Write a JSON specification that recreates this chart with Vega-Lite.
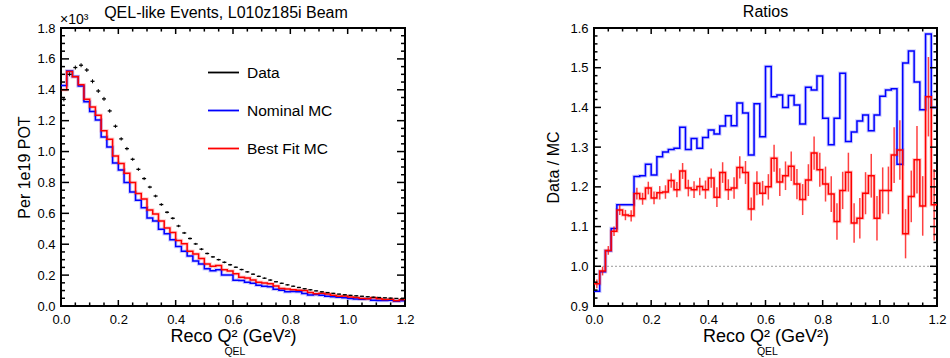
{
  "$schema": "https://vega.github.io/schema/vega-lite/v6.json",
  "background": "white",
  "padding": {"left": 15, "top": 3, "right": 5, "bottom": 0},
  "bounds": "flush",
  "spacing": 189,
  "config": {
    "view": {"stroke": "black", "strokeWidth": 2},
    "axis": {"grid": false, "domain": false, "ticks": false, "labelFont": "Liberation Sans Narrow, Liberation Sans", "labelFontSize": 13, "labelColor": "black", "titleFont": "Liberation Sans", "titleFontSize": 16, "titleFontWeight": "normal", "titleColor": "black", "labelFlush": false, "labelOverlap": false},
    "title": {"font": "Liberation Sans", "fontSize": 16, "fontWeight": "normal", "color": "black"},
    "legend": {"orient": "none", "legendX": 146, "legendY": 28, "symbolType": "stroke", "symbolSize": 961, "symbolStrokeWidth": 1.8, "labelFont": "Liberation Sans", "labelFontSize": 15.5, "labelColor": "black", "rowPadding": 13, "labelOffset": 7, "padding": 0, "title": null}
  },
  "datasets": {
    "h": [
      {"lo":0.00,"hi":0.02,"c":0.01,"d":1.338,"de":0.013,"n":1.428,"f":1.400,"rn":0.937,"rf":0.956,"re":0.011},
      {"lo":0.02,"hi":0.04,"c":0.03,"d":1.500,"de":0.013,"n":1.521,"f":1.518,"rn":0.986,"rf":0.988,"re":0.011},
      {"lo":0.04,"hi":0.06,"c":0.05,"d":1.544,"de":0.013,"n":1.486,"f":1.485,"rn":1.039,"rf":1.040,"re":0.011},
      {"lo":0.06,"hi":0.08,"c":0.07,"d":1.559,"de":0.013,"n":1.424,"f":1.433,"rn":1.095,"rf":1.088,"re":0.012},
      {"lo":0.08,"hi":0.10,"c":0.09,"d":1.528,"de":0.013,"n":1.323,"f":1.338,"rn":1.155,"rf":1.142,"re":0.013},
      {"lo":0.10,"hi":0.12,"c":0.11,"d":1.455,"de":0.013,"n":1.260,"f":1.289,"rn":1.155,"rf":1.129,"re":0.013},
      {"lo":0.12,"hi":0.14,"c":0.13,"d":1.392,"de":0.013,"n":1.205,"f":1.235,"rn":1.155,"rf":1.127,"re":0.014},
      {"lo":0.14,"hi":0.16,"c":0.15,"d":1.341,"de":0.013,"n":1.094,"f":1.134,"rn":1.226,"rf":1.183,"re":0.015},
      {"lo":0.16,"hi":0.18,"c":0.17,"d":1.263,"de":0.012,"n":1.029,"f":1.079,"rn":1.228,"rf":1.170,"re":0.015},
      {"lo":0.18,"hi":0.20,"c":0.19,"d":1.164,"de":0.011,"n":0.926,"f":0.972,"rn":1.257,"rf":1.197,"re":0.016},
      {"lo":0.20,"hi":0.22,"c":0.21,"d":1.082,"de":0.011,"n":0.880,"f":0.923,"rn":1.230,"rf":1.172,"re":0.016},
      {"lo":0.22,"hi":0.24,"c":0.23,"d":1.019,"de":0.011,"n":0.799,"f":0.860,"rn":1.276,"rf":1.185,"re":0.017},
      {"lo":0.24,"hi":0.26,"c":0.25,"d":0.950,"de":0.010,"n":0.738,"f":0.800,"rn":1.288,"rf":1.187,"re":0.017},
      {"lo":0.26,"hi":0.28,"c":0.27,"d":0.885,"de":0.010,"n":0.684,"f":0.728,"rn":1.294,"rf":1.216,"re":0.018},
      {"lo":0.28,"hi":0.30,"c":0.29,"d":0.825,"de":0.010,"n":0.636,"f":0.692,"rn":1.297,"rf":1.193,"re":0.019},
      {"lo":0.30,"hi":0.32,"c":0.31,"d":0.770,"de":0.009,"n":0.570,"f":0.621,"rn":1.350,"rf":1.240,"re":0.020},
      {"lo":0.32,"hi":0.34,"c":0.33,"d":0.712,"de":0.009,"n":0.550,"f":0.595,"rn":1.294,"rf":1.197,"re":0.021},
      {"lo":0.34,"hi":0.36,"c":0.35,"d":0.657,"de":0.009,"n":0.497,"f":0.551,"rn":1.322,"rf":1.193,"re":0.021},
      {"lo":0.36,"hi":0.38,"c":0.37,"d":0.607,"de":0.008,"n":0.468,"f":0.505,"rn":1.297,"rf":1.201,"re":0.022},
      {"lo":0.38,"hi":0.40,"c":0.39,"d":0.568,"de":0.008,"n":0.429,"f":0.476,"rn":1.324,"rf":1.193,"re":0.023},
      {"lo":0.40,"hi":0.42,"c":0.41,"d":0.518,"de":0.008,"n":0.386,"f":0.424,"rn":1.343,"rf":1.222,"re":0.024},
      {"lo":0.42,"hi":0.44,"c":0.43,"d":0.473,"de":0.007,"n":0.355,"f":0.403,"rn":1.333,"rf":1.174,"re":0.025},
      {"lo":0.44,"hi":0.46,"c":0.45,"d":0.437,"de":0.007,"n":0.323,"f":0.354,"rn":1.353,"rf":1.236,"re":0.026},
      {"lo":0.46,"hi":0.48,"c":0.47,"d":0.402,"de":0.007,"n":0.292,"f":0.337,"rn":1.379,"rf":1.193,"re":0.026},
      {"lo":0.48,"hi":0.50,"c":0.49,"d":0.368,"de":0.007,"n":0.272,"f":0.307,"rn":1.354,"rf":1.197,"re":0.027},
      {"lo":0.50,"hi":0.52,"c":0.51,"d":0.340,"de":0.006,"n":0.241,"f":0.272,"rn":1.411,"rf":1.249,"re":0.028},
      {"lo":0.52,"hi":0.54,"c":0.53,"d":0.318,"de":0.006,"n":0.229,"f":0.257,"rn":1.386,"rf":1.236,"re":0.029},
      {"lo":0.54,"hi":0.56,"c":0.55,"d":0.300,"de":0.006,"n":0.234,"f":0.262,"rn":1.280,"rf":1.144,"re":0.029},
      {"lo":0.56,"hi":0.58,"c":0.57,"d":0.283,"de":0.006,"n":0.201,"f":0.234,"rn":1.409,"rf":1.209,"re":0.030},
      {"lo":0.58,"hi":0.60,"c":0.59,"d":0.267,"de":0.006,"n":0.201,"f":0.226,"rn":1.326,"rf":1.184,"re":0.031},
      {"lo":0.60,"hi":0.62,"c":0.61,"d":0.251,"de":0.005,"n":0.167,"f":0.209,"rn":1.503,"rf":1.200,"re":0.032},
      {"lo":0.62,"hi":0.64,"c":0.63,"d":0.236,"de":0.005,"n":0.165,"f":0.186,"rn":1.427,"rf":1.272,"re":0.034},
      {"lo":0.64,"hi":0.66,"c":0.65,"d":0.221,"de":0.005,"n":0.154,"f":0.182,"rn":1.431,"rf":1.212,"re":0.035},
      {"lo":0.66,"hi":0.68,"c":0.67,"d":0.206,"de":0.005,"n":0.147,"f":0.168,"rn":1.400,"rf":1.228,"re":0.036},
      {"lo":0.68,"hi":0.70,"c":0.69,"d":0.192,"de":0.005,"n":0.134,"f":0.153,"rn":1.430,"rf":1.252,"re":0.037},
      {"lo":0.70,"hi":0.72,"c":0.71,"d":0.180,"de":0.005,"n":0.128,"f":0.149,"rn":1.406,"rf":1.207,"re":0.038},
      {"lo":0.72,"hi":0.74,"c":0.73,"d":0.168,"de":0.005,"n":0.124,"f":0.144,"rn":1.358,"rf":1.168,"re":0.039},
      {"lo":0.74,"hi":0.76,"c":0.75,"d":0.157,"de":0.004,"n":0.108,"f":0.129,"rn":1.451,"rf":1.217,"re":0.040},
      {"lo":0.76,"hi":0.78,"c":0.77,"d":0.147,"de":0.004,"n":0.102,"f":0.114,"rn":1.444,"rf":1.285,"re":0.042},
      {"lo":0.78,"hi":0.80,"c":0.79,"d":0.137,"de":0.004,"n":0.0926,"f":0.110,"rn":1.479,"rf":1.243,"re":0.043},
      {"lo":0.80,"hi":0.82,"c":0.81,"d":0.128,"de":0.004,"n":0.0932,"f":0.106,"rn":1.373,"rf":1.207,"re":0.044},
      {"lo":0.82,"hi":0.84,"c":0.83,"d":0.120,"de":0.004,"n":0.0919,"f":0.1015,"rn":1.306,"rf":1.182,"re":0.045},
      {"lo":0.84,"hi":0.86,"c":0.85,"d":0.112,"de":0.004,"n":0.0816,"f":0.1006,"rn":1.373,"rf":1.113,"re":0.046},
      {"lo":0.86,"hi":0.88,"c":0.87,"d":0.105,"de":0.004,"n":0.0707,"f":0.0882,"rn":1.486,"rf":1.191,"re":0.047},
      {"lo":0.88,"hi":0.90,"c":0.89,"d":0.098,"de":0.004,"n":0.0746,"f":0.0792,"rn":1.314,"rf":1.237,"re":0.049},
      {"lo":0.90,"hi":0.92,"c":0.91,"d":0.092,"de":0.004,"n":0.0688,"f":0.0830,"rn":1.338,"rf":1.109,"re":0.050},
      {"lo":0.92,"hi":0.94,"c":0.93,"d":0.087,"de":0.003,"n":0.0637,"f":0.0776,"rn":1.366,"rf":1.121,"re":0.051},
      {"lo":0.94,"hi":0.96,"c":0.95,"d":0.082,"de":0.003,"n":0.0594,"f":0.0693,"rn":1.381,"rf":1.184,"re":0.053},
      {"lo":0.96,"hi":0.98,"c":0.97,"d":0.077,"de":0.003,"n":0.0574,"f":0.0627,"rn":1.341,"rf":1.228,"re":0.055},
      {"lo":0.98,"hi":1.00,"c":0.99,"d":0.073,"de":0.003,"n":0.0529,"f":0.0651,"rn":1.381,"rf":1.121,"re":0.056},
      {"lo":1.00,"hi":1.02,"c":1.01,"d":0.069,"de":0.003,"n":0.0483,"f":0.0579,"rn":1.428,"rf":1.191,"re":0.058},
      {"lo":1.02,"hi":1.04,"c":1.03,"d":0.066,"de":0.003,"n":0.0457,"f":0.0554,"rn":1.444,"rf":1.191,"re":0.060},
      {"lo":1.04,"hi":1.06,"c":1.05,"d":0.063,"de":0.003,"n":0.0435,"f":0.0492,"rn":1.447,"rf":1.280,"re":0.070},
      {"lo":1.06,"hi":1.08,"c":1.07,"d":0.060,"de":0.003,"n":0.0477,"f":0.0464,"rn":1.257,"rf":1.293,"re":0.075},
      {"lo":1.08,"hi":1.10,"c":1.09,"d":0.057,"de":0.003,"n":0.0377,"f":0.0527,"rn":1.512,"rf":1.082,"re":0.062},
      {"lo":1.10,"hi":1.12,"c":1.11,"d":0.055,"de":0.003,"n":0.0357,"f":0.0468,"rn":1.542,"rf":1.176,"re":0.065},
      {"lo":1.12,"hi":1.14,"c":1.13,"d":0.053,"de":0.003,"n":0.0362,"f":0.0418,"rn":1.464,"rf":1.268,"re":0.085},
      {"lo":1.14,"hi":1.16,"c":1.15,"d":0.051,"de":0.003,"n":0.0366,"f":0.0443,"rn":1.394,"rf":1.152,"re":0.075},
      {"lo":1.16,"hi":1.18,"c":1.17,"d":0.049,"de":0.003,"n":0.0309,"f":0.0343,"rn":1.585,"rf":1.427,"re":0.100},
      {"lo":1.18,"hi":1.20,"c":1.19,"d":0.047,"de":0.003,"n":0.0336,"f":0.0407,"rn":1.400,"rf":1.155,"re":0.090},
      {"lo":1.20,"n":0.0336,"f":0.0407,"rn":1.400,"rf":1.155}
    ]
  },
  "hconcat": [
    {
      "width": 344,
      "height": 278,
      "title": {"text": "QEL-like Events, L010z185i Beam", "offset": -8, "dx": -7},
      "data": {"name": "h"},
      "resolve": {"axis": {"x": "independent", "y": "independent"}},
      "layer": [
        {
          "mark": {"type": "line", "interpolate": "step-after", "strokeWidth": 3.5, "opacity": 0.2, "color": "#0000ff"},
          "encoding": {
            "x": {"field": "lo", "type": "quantitative", "scale": {"domain": [0, 1.2], "nice": false, "zero": false},
                  "axis": {"orient": "bottom", "values": [0, 0.2, 0.4, 0.6, 0.8, 1.0, 1.2], "format": ".1f", "labelPadding": 7, "title": "Reco Q²    (GeV²)", "titleFontSize": 18, "titlePadding": 1}},
            "y": {"field": "n", "type": "quantitative", "scale": {"domain": [0, 1.8], "nice": false, "zero": false},
                  "axis": {"orient": "left", "values": [0, 0.2, 0.4, 0.6, 0.8, 1.0, 1.2, 1.4, 1.6, 1.8], "format": ".1f", "labelPadding": 6, "title": "Per 1e19 POT", "titlePadding": 4}}
          }
        },
        {
          "mark": {"type": "line", "interpolate": "step-after", "strokeWidth": 3.5, "opacity": 0.2, "color": "#ff0000"},
          "encoding": {
            "x": {"field": "lo", "type": "quantitative", "axis": null},
            "y": {"field": "f", "type": "quantitative", "axis": null}
          }
        },
        {
          "mark": {"type": "line", "interpolate": "step-after", "strokeWidth": 1.5},
          "encoding": {
            "x": {"field": "lo", "type": "quantitative", "axis": null},
            "y": {"field": "n", "type": "quantitative", "axis": null},
            "color": {"datum": "Nominal MC", "type": "nominal", "scale": {"domain": ["Data", "Nominal MC", "Best Fit MC"], "range": ["#000000", "#0000ff", "#ff0000"]}}
          }
        },
        {
          "mark": {"type": "line", "interpolate": "step-after", "strokeWidth": 1.5},
          "encoding": {
            "x": {"field": "lo", "type": "quantitative", "axis": null},
            "y": {"field": "f", "type": "quantitative", "axis": null},
            "color": {"datum": "Best Fit MC", "type": "nominal"}
          }
        },
        {
          "mark": {"type": "rule", "strokeWidth": 1.3, "strokeDash": [4, 1.7], "strokeDashOffset": -0.85},
          "encoding": {
            "x": {"field": "lo", "type": "quantitative", "axis": null},
            "x2": {"field": "hi"},
            "y": {"field": "d", "type": "quantitative", "axis": null},
            "color": {"datum": "Data", "type": "nominal", "legend": {"symbolDash": [], "encode": {"symbols": {"update": {"strokeDash": {"value": []}}}}}}
          }
        },
        {
          "transform": [{"filter": "isValid(datum.de)"}],
          "mark": {"type": "errorbar", "color": "black", "thickness": 1, "ticks": false},
          "encoding": {
            "x": {"field": "c", "type": "quantitative", "axis": null},
            "y": {"field": "d", "type": "quantitative", "axis": null},
            "yError": {"field": "de"}
          }
        },
        {
          "data": {"values": [{"v":0},{"v":0.2},{"v":0.4},{"v":0.6},{"v":0.8},{"v":1.0},{"v":1.2}]},
          "mark": {"type": "rule", "color": "#000000", "strokeWidth": 1.5},
          "encoding": {
            "x": {"field": "v", "type": "quantitative", "axis": null},
            "y": {"datum": 0, "type": "quantitative", "axis": null},
            "y2": {"datum": 0.039}
          }
        },
        {
          "data": {"values": [{"v":0.05},{"v":0.1},{"v":0.15},{"v":0.25},{"v":0.3},{"v":0.35},{"v":0.45},{"v":0.5},{"v":0.55},{"v":0.65},{"v":0.7},{"v":0.75},{"v":0.85},{"v":0.9},{"v":0.95},{"v":1.05},{"v":1.1},{"v":1.15}]},
          "mark": {"type": "rule", "color": "#000000", "strokeWidth": 1.5},
          "encoding": {
            "x": {"field": "v", "type": "quantitative", "axis": null},
            "y": {"datum": 0, "type": "quantitative", "axis": null},
            "y2": {"datum": 0.023}
          }
        },
        {
          "data": {"values": [{"v":0},{"v":0.2},{"v":0.4},{"v":0.6},{"v":0.8},{"v":1.0},{"v":1.2}]},
          "mark": {"type": "rule", "color": "#000000", "strokeWidth": 1.5},
          "encoding": {
            "x": {"field": "v", "type": "quantitative", "axis": null},
            "y": {"datum": 1.8, "type": "quantitative", "axis": null},
            "y2": {"datum": 1.761}
          }
        },
        {
          "data": {"values": [{"v":0.05},{"v":0.1},{"v":0.15},{"v":0.25},{"v":0.3},{"v":0.35},{"v":0.45},{"v":0.5},{"v":0.55},{"v":0.65},{"v":0.7},{"v":0.75},{"v":0.85},{"v":0.9},{"v":0.95},{"v":1.05},{"v":1.1},{"v":1.15}]},
          "mark": {"type": "rule", "color": "#000000", "strokeWidth": 1.5},
          "encoding": {
            "x": {"field": "v", "type": "quantitative", "axis": null},
            "y": {"datum": 1.8, "type": "quantitative", "axis": null},
            "y2": {"datum": 1.777}
          }
        },
        {
          "data": {"values": [{"v":0},{"v":0.2},{"v":0.4},{"v":0.6},{"v":0.8},{"v":1.0},{"v":1.2},{"v":1.4},{"v":1.6},{"v":1.8}]},
          "mark": {"type": "rule", "color": "#000000", "strokeWidth": 1.5},
          "encoding": {
            "y": {"field": "v", "type": "quantitative", "axis": null},
            "x": {"datum": 0, "type": "quantitative", "axis": null},
            "x2": {"datum": 0.028}
          }
        },
        {
          "data": {"values": [{"v":0.05},{"v":0.1},{"v":0.15},{"v":0.25},{"v":0.3},{"v":0.35},{"v":0.45},{"v":0.5},{"v":0.55},{"v":0.65},{"v":0.7},{"v":0.75},{"v":0.85},{"v":0.9},{"v":0.95},{"v":1.05},{"v":1.1},{"v":1.15},{"v":1.25},{"v":1.3},{"v":1.35},{"v":1.45},{"v":1.5},{"v":1.55},{"v":1.65},{"v":1.7},{"v":1.75}]},
          "mark": {"type": "rule", "color": "#000000", "strokeWidth": 1.5},
          "encoding": {
            "y": {"field": "v", "type": "quantitative", "axis": null},
            "x": {"datum": 0, "type": "quantitative", "axis": null},
            "x2": {"datum": 0.014}
          }
        },
        {
          "data": {"values": [{"v":0},{"v":0.2},{"v":0.4},{"v":0.6},{"v":0.8},{"v":1.0},{"v":1.2},{"v":1.4},{"v":1.6},{"v":1.8}]},
          "mark": {"type": "rule", "color": "#000000", "strokeWidth": 1.5},
          "encoding": {
            "y": {"field": "v", "type": "quantitative", "axis": null},
            "x": {"datum": 1.2, "type": "quantitative", "axis": null},
            "x2": {"datum": 1.172}
          }
        },
        {
          "data": {"values": [{"v":0.05},{"v":0.1},{"v":0.15},{"v":0.25},{"v":0.3},{"v":0.35},{"v":0.45},{"v":0.5},{"v":0.55},{"v":0.65},{"v":0.7},{"v":0.75},{"v":0.85},{"v":0.9},{"v":0.95},{"v":1.05},{"v":1.1},{"v":1.15},{"v":1.25},{"v":1.3},{"v":1.35},{"v":1.45},{"v":1.5},{"v":1.55},{"v":1.65},{"v":1.7},{"v":1.75}]},
          "mark": {"type": "rule", "color": "#000000", "strokeWidth": 1.5},
          "encoding": {
            "y": {"field": "v", "type": "quantitative", "axis": null},
            "x": {"datum": 1.2, "type": "quantitative", "axis": null},
            "x2": {"datum": 1.186}
          }
        },
        {
          "data": {"values": [{}]},
          "mark": {"type": "text", "text": "×10³", "align": "left", "baseline": "alphabetic", "dx": -1, "dy": -4, "font": "Liberation Sans", "fontSize": 14, "color": "black"},
          "encoding": {
            "x": {"datum": 0, "type": "quantitative", "axis": null},
            "y": {"datum": 1.8, "type": "quantitative", "axis": null}
          }
        },
        {
          "data": {"values": [{}]},
          "mark": {"type": "text", "text": "QEL", "align": "left", "baseline": "top", "dy": 41, "font": "Liberation Sans", "fontSize": 10.5, "color": "black"},
          "encoding": {
            "x": {"datum": 0.57, "type": "quantitative", "axis": null},
            "y": {"datum": 0, "type": "quantitative", "axis": null}
          }
        }
      ]
    },
    {
      "width": 343,
      "height": 278,
      "title": {"text": "Ratios", "offset": 2},
      "data": {"name": "h"},
      "resolve": {"axis": {"x": "independent", "y": "independent"}},
      "layer": [
        {
          "mark": {"type": "line", "interpolate": "step-after", "strokeWidth": 3.5, "opacity": 0.2, "color": "#0000ff"},
          "encoding": {
            "x": {"field": "lo", "type": "quantitative", "scale": {"domain": [0, 1.2], "nice": false, "zero": false},
                  "axis": {"orient": "bottom", "values": [0, 0.2, 0.4, 0.6, 0.8, 1.0, 1.2], "format": ".1f", "labelPadding": 7, "title": "Reco Q²    (GeV²)", "titleFontSize": 18, "titlePadding": 1}},
            "y": {"field": "rn", "type": "quantitative", "scale": {"domain": [0.9, 1.6], "nice": false, "zero": false},
                  "axis": {"orient": "left", "values": [0.9, 1.0, 1.1, 1.2, 1.3, 1.4, 1.5, 1.6], "format": ".1f", "labelPadding": 6, "title": "Data / MC", "titlePadding": 8}}
          }
        },
        {
          "mark": {"type": "line", "interpolate": "step-after", "strokeWidth": 3.5, "opacity": 0.2, "color": "#ff0000"},
          "encoding": {
            "x": {"field": "lo", "type": "quantitative", "axis": null},
            "y": {"field": "rf", "type": "quantitative", "axis": null}
          }
        },
        {
          "data": {"values": [{}]},
          "mark": {"type": "rule", "color": "#999999", "strokeDash": [2, 2], "strokeWidth": 1},
          "encoding": {
            "y": {"datum": 1.0, "type": "quantitative", "axis": null}
          }
        },
        {
          "mark": {"type": "line", "interpolate": "step-after", "strokeWidth": 1.5, "color": "#0000ff"},
          "encoding": {
            "x": {"field": "lo", "type": "quantitative", "axis": null},
            "y": {"field": "rn", "type": "quantitative", "axis": null}
          }
        },
        {
          "mark": {"type": "line", "interpolate": "step-after", "strokeWidth": 1.5, "color": "#ff0000"},
          "encoding": {
            "x": {"field": "lo", "type": "quantitative", "axis": null},
            "y": {"field": "rf", "type": "quantitative", "axis": null}
          }
        },
        {
          "transform": [{"filter": "isValid(datum.re)"}],
          "mark": {"type": "errorbar", "color": "#ff0000", "opacity": 0.75, "thickness": 1.5, "ticks": false},
          "encoding": {
            "x": {"field": "c", "type": "quantitative", "axis": null},
            "y": {"field": "rf", "type": "quantitative", "axis": null},
            "yError": {"field": "re"}
          }
        },
        {
          "data": {"values": [{"v":0},{"v":0.2},{"v":0.4},{"v":0.6},{"v":0.8},{"v":1.0},{"v":1.2}]},
          "mark": {"type": "rule", "color": "#000000", "strokeWidth": 1.5},
          "encoding": {
            "x": {"field": "v", "type": "quantitative", "axis": null},
            "y": {"datum": 0.9, "type": "quantitative", "axis": null},
            "y2": {"datum": 0.9151}
          }
        },
        {
          "data": {"values": [{"v":0.05},{"v":0.1},{"v":0.15},{"v":0.25},{"v":0.3},{"v":0.35},{"v":0.45},{"v":0.5},{"v":0.55},{"v":0.65},{"v":0.7},{"v":0.75},{"v":0.85},{"v":0.9},{"v":0.95},{"v":1.05},{"v":1.1},{"v":1.15}]},
          "mark": {"type": "rule", "color": "#000000", "strokeWidth": 1.5},
          "encoding": {
            "x": {"field": "v", "type": "quantitative", "axis": null},
            "y": {"datum": 0.9, "type": "quantitative", "axis": null},
            "y2": {"datum": 0.9088}
          }
        },
        {
          "data": {"values": [{"v":0},{"v":0.2},{"v":0.4},{"v":0.6},{"v":0.8},{"v":1.0},{"v":1.2}]},
          "mark": {"type": "rule", "color": "#000000", "strokeWidth": 1.5},
          "encoding": {
            "x": {"field": "v", "type": "quantitative", "axis": null},
            "y": {"datum": 1.6, "type": "quantitative", "axis": null},
            "y2": {"datum": 1.5849}
          }
        },
        {
          "data": {"values": [{"v":0.05},{"v":0.1},{"v":0.15},{"v":0.25},{"v":0.3},{"v":0.35},{"v":0.45},{"v":0.5},{"v":0.55},{"v":0.65},{"v":0.7},{"v":0.75},{"v":0.85},{"v":0.9},{"v":0.95},{"v":1.05},{"v":1.1},{"v":1.15}]},
          "mark": {"type": "rule", "color": "#000000", "strokeWidth": 1.5},
          "encoding": {
            "x": {"field": "v", "type": "quantitative", "axis": null},
            "y": {"datum": 1.6, "type": "quantitative", "axis": null},
            "y2": {"datum": 1.5912}
          }
        },
        {
          "data": {"values": [{"v":0.9},{"v":1.0},{"v":1.1},{"v":1.2},{"v":1.3},{"v":1.4},{"v":1.5},{"v":1.6}]},
          "mark": {"type": "rule", "color": "#000000", "strokeWidth": 1.5},
          "encoding": {
            "y": {"field": "v", "type": "quantitative", "axis": null},
            "x": {"datum": 0, "type": "quantitative", "axis": null},
            "x2": {"datum": 0.0244}
          }
        },
        {
          "data": {"values": [{"v":0.92},{"v":0.94},{"v":0.96},{"v":0.98},{"v":1.02},{"v":1.04},{"v":1.06},{"v":1.08},{"v":1.12},{"v":1.14},{"v":1.16},{"v":1.18},{"v":1.22},{"v":1.24},{"v":1.26},{"v":1.28},{"v":1.32},{"v":1.34},{"v":1.36},{"v":1.38},{"v":1.42},{"v":1.44},{"v":1.46},{"v":1.48},{"v":1.52},{"v":1.54},{"v":1.56},{"v":1.58}]},
          "mark": {"type": "rule", "color": "#000000", "strokeWidth": 1.5},
          "encoding": {
            "y": {"field": "v", "type": "quantitative", "axis": null},
            "x": {"datum": 0, "type": "quantitative", "axis": null},
            "x2": {"datum": 0.0122}
          }
        },
        {
          "data": {"values": [{"v":0.9},{"v":1.0},{"v":1.1},{"v":1.2},{"v":1.3},{"v":1.4},{"v":1.5},{"v":1.6}]},
          "mark": {"type": "rule", "color": "#000000", "strokeWidth": 1.5},
          "encoding": {
            "y": {"field": "v", "type": "quantitative", "axis": null},
            "x": {"datum": 1.2, "type": "quantitative", "axis": null},
            "x2": {"datum": 1.1756}
          }
        },
        {
          "data": {"values": [{"v":0.92},{"v":0.94},{"v":0.96},{"v":0.98},{"v":1.02},{"v":1.04},{"v":1.06},{"v":1.08},{"v":1.12},{"v":1.14},{"v":1.16},{"v":1.18},{"v":1.22},{"v":1.24},{"v":1.26},{"v":1.28},{"v":1.32},{"v":1.34},{"v":1.36},{"v":1.38},{"v":1.42},{"v":1.44},{"v":1.46},{"v":1.48},{"v":1.52},{"v":1.54},{"v":1.56},{"v":1.58}]},
          "mark": {"type": "rule", "color": "#000000", "strokeWidth": 1.5},
          "encoding": {
            "y": {"field": "v", "type": "quantitative", "axis": null},
            "x": {"datum": 1.2, "type": "quantitative", "axis": null},
            "x2": {"datum": 1.1878}
          }
        },
        {
          "data": {"values": [{}]},
          "mark": {"type": "text", "text": "QEL", "align": "left", "baseline": "top", "dy": 41, "font": "Liberation Sans", "fontSize": 10.5, "color": "black"},
          "encoding": {
            "x": {"datum": 0.57, "type": "quantitative", "axis": null},
            "y": {"datum": 0.9, "type": "quantitative", "axis": null}
          }
        }
      ]
    }
  ]
}
